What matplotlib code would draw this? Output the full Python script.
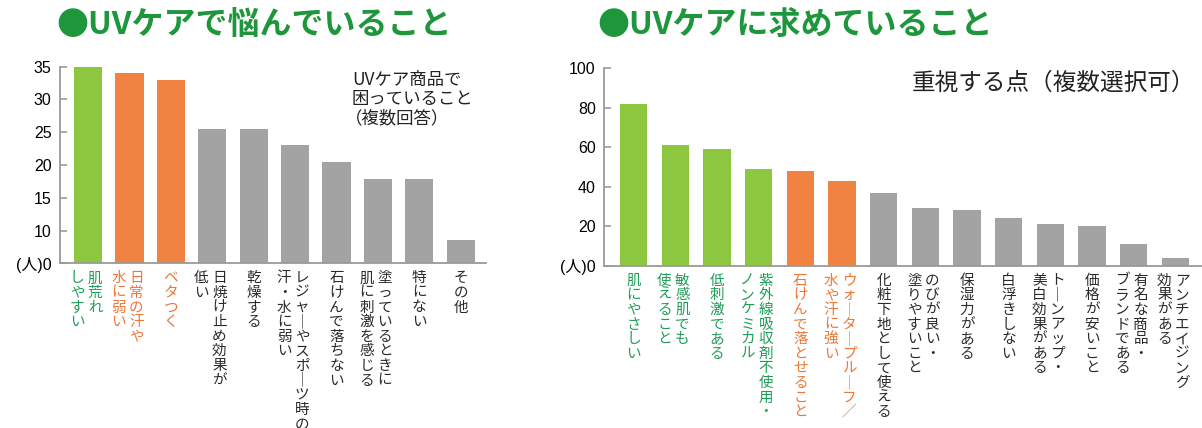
import matplotlib
matplotlib.use("Agg")
import matplotlib.pyplot as plt
import numpy as np

plt.rcParams['font.family'] = ['Noto Sans CJK JP', 'DejaVu Sans']

# data: UVケアで悩んでいること
left_labels = [['肌荒れ', 'しやすい'], ['日常の汗や', '水に弱い'], ['ベタつく'],
               ['日焼け止め効果が', '低い'], ['乾燥する'], ['レジャーやスポーツ時の', '汗・水に弱い'],
               ['石けんで落ちない'], ['塗っているときに', '肌に刺激を感じる'], ['特にない'], ['その他']]
left_values = [35, 34, 33, 25.5, 25.5, 23, 20.4, 17.8, 17.8, 7]
left_groups = ['g', 'o', 'o', 'n', 'n', 'n', 'n', 'n', 'n', 'n']
left_ticks = [0, 10, 15, 20, 25, 30, 35]

# data: UVケアに求めていること
right_labels = [['肌にやさしい'], ['敏感肌でも', '使えること'], ['低刺激である'],
                ['紫外線吸収剤不使用・', 'ノンケミカル'], ['石けんで落とせること'],
                ['ウォータープルーフ／', '水や汗に強い'], ['化粧下地として使える'],
                ['のびが良い・', '塗りやすいこと'], ['保湿力がある'], ['白浮きしない'],
                ['トーンアップ・', '美白効果がある'], ['価格が安いこと'], ['有名な商品・', 'ブランドである'],
                ['アンチエイジング', '効果がある']]
right_values = [82, 61, 59, 49, 48, 43, 37, 29, 28, 24, 21, 20, 11, 4]
right_groups = ['g', 'g', 'g', 'g', 'o', 'o', 'n', 'n', 'n', 'n', 'n', 'n', 'n', 'n']
right_ticks = [0, 20, 40, 60, 80, 100]

bar_colors = {'g': '#8dc63f', 'o': '#f08242', 'n': '#a3a3a3'}
text_colors = {'g': '#1f9d57', 'o': '#ee7636', 'n': '#2a2a2a'}
title_green = '#1e963c'
spine_gray = '#9a9a9a'

W, H = 1202, 428
fig = plt.figure(figsize=(W / 100, H / 100), dpi=100)


def fpos(x, y):
    return x / W, 1 - y / H


# the left axis is squeezed below 10 (0..10 takes the room of 5)
def fwd(y):
    y = np.asarray(y, dtype=float)
    return np.where(y < 10, 5 + y * 0.5, y)


def inv(u):
    u = np.asarray(u, dtype=float)
    return np.where(u < 10, (u - 5) * 2, u)


def style_axes(ax, ticks):
    for s in ['top', 'right']:
        ax.spines[s].set_visible(False)
    for s in ['left', 'bottom']:
        ax.spines[s].set_color(spine_gray)
        ax.spines[s].set_linewidth(1.3)
    ax.set_xticks([])
    ax.set_yticks(ticks)
    ax.set_yticklabels(['(人)0'] + [str(t) for t in ticks[1:]],
                       family=['Liberation Sans', 'Noto Sans CJK JP'], fontsize=11.5)
    ax.tick_params(axis='y', direction='in', length=5, width=1.2, color=spine_gray, pad=6)


def vertical_labels(ax, labels, groups, col_gap):
    # japanese vertical writing: one char per row, first column on the right
    for i, cols in enumerate(labels):
        n = len(cols)
        for j, col in enumerate(cols):
            dx = (-2 + ((n - 1) / 2 - j) * col_gap) if n > 1 else 0
            for k, ch in enumerate(col.replace('ー', '｜')):
                dy = -(15 + k * 14.6)
                ax.annotate(ch, xy=(i, 0), xycoords=ax.get_xaxis_transform(),
                            xytext=(dx * 0.72, dy * 0.72), textcoords='offset points',
                            ha='center', va='center', fontsize=10.5,
                            color=text_colors[groups[i]], annotation_clip=False)


# left chart
ax1 = fig.add_axes([60 / W, 164.7 / H, 426 / W, 196.6 / H])
ax1.set_yscale('function', functions=(fwd, inv))
ax1.bar(range(len(left_values)), left_values, width=0.68,
        color=[bar_colors[g] for g in left_groups])
ax1.set_ylim(0, 35)
ax1.set_xlim(-0.68, 9.61)
style_axes(ax1, left_ticks)
vertical_labels(ax1, left_labels, left_groups, 18)

# right chart
ax2 = fig.add_axes([604 / W, 162.3 / H, 598 / W, 197.4 / H])
ax2.bar(range(len(right_values)), right_values, width=0.66,
        color=[bar_colors[g] for g in right_groups])
ax2.set_ylim(0, 100)
ax2.set_xlim(-0.713, 13.64)
style_axes(ax2, right_ticks)
vertical_labels(ax2, right_labels, right_groups, 18)

# titles
fig.text(*fpos(56, 25), '●UVケアで悩んでいること', fontsize=23, fontweight='bold',
         color=title_green, va='center', ha='left')
fig.text(*fpos(597, 25), '●UVケアに求めていること', fontsize=23, fontweight='bold',
         color=title_green, va='center', ha='left')

# notes
for y, line in zip([80, 99, 118], ['UVケア商品で', '困っていること', '（複数回答）']):
    x = 345 if line.startswith('（') else 352
    fig.text(*fpos(x, y), line, fontsize=12.5, color='#222222', va='center', ha='left')
fig.text(*fpos(912, 83), '重視する点（複数選択可）', fontsize=17, color='#222222',
         va='center', ha='left')

fig.savefig('out.png', dpi=100)
